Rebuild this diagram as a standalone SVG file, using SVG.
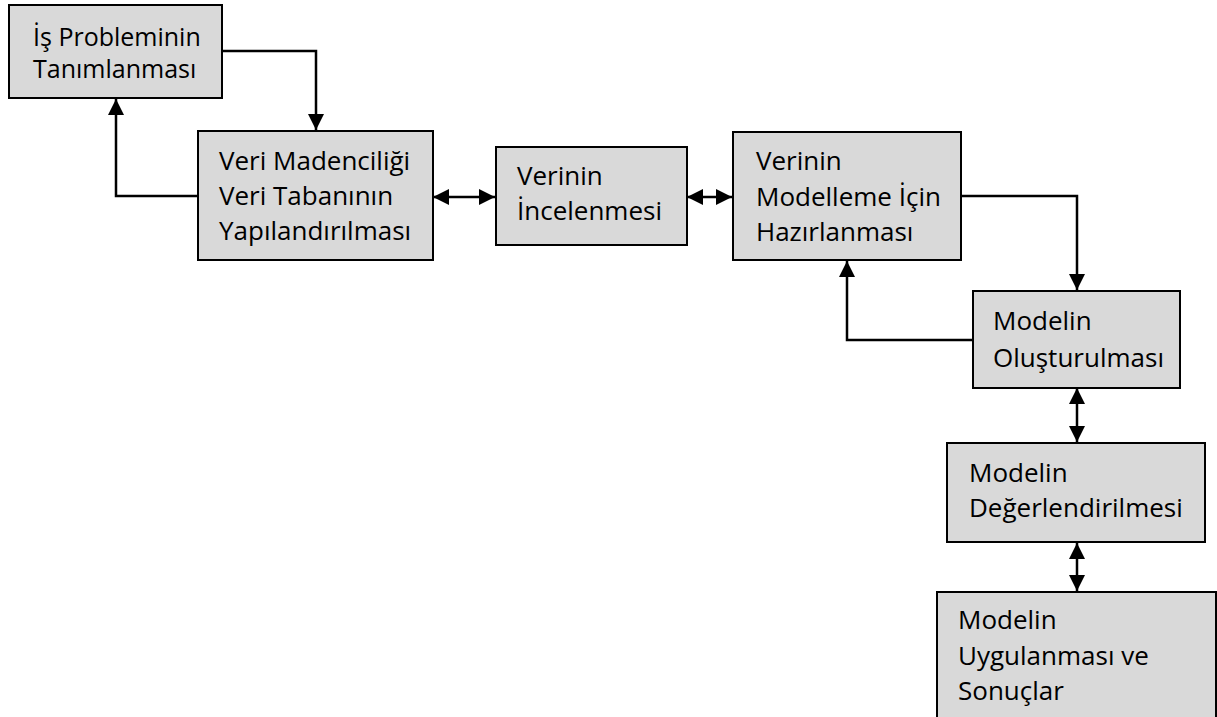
<svg xmlns="http://www.w3.org/2000/svg" width="1217" height="717" viewBox="0 0 1217 717">
  <style>
    .box { fill: #d9d9d9; stroke: #000; stroke-width: 2; }
    .lbl { font-family: "Open Sans", "Noto Sans", sans-serif; font-size: 26px; fill: #000; }
    .lbl.sm { font-size: 25px; }
    .wire { fill: none; stroke: #000; stroke-width: 2.5; }
  </style>
  <defs>
    <marker id="head" markerUnits="userSpaceOnUse" markerWidth="17" markerHeight="17" refX="16" refY="8" orient="auto-start-reverse" viewBox="0 0 17 17">
      <path d="M0,0 L16,8 L0,16 Z" fill="#000"/>
    </marker>
  </defs>
  <rect width="1217" height="717" fill="#fff"/>

  <g id="connectors">
    <path class="wire" d="M222,51 H316 V130" marker-end="url(#head)"/>
    <path class="wire" d="M198,196 H116 V99" marker-end="url(#head)"/>
    <path class="wire" d="M433,197 H495" marker-start="url(#head)" marker-end="url(#head)"/>
    <path class="wire" d="M687,197 H732" marker-start="url(#head)" marker-end="url(#head)"/>
    <path class="wire" d="M961,196 H1077 V290" marker-end="url(#head)"/>
    <path class="wire" d="M973,340 H847 V261" marker-end="url(#head)"/>
    <path class="wire" d="M1077,388 V442" marker-start="url(#head)" marker-end="url(#head)"/>
    <path class="wire" d="M1077,543 V591" marker-start="url(#head)" marker-end="url(#head)"/>
  </g>

  <g id="is-problemi">
    <rect class="box" x="9" y="5" width="213" height="93"/>
    <text class="lbl sm" x="33" y="46">İş Probleminin</text>
    <text class="lbl sm" x="33" y="78">Tanımlanması</text>
  </g>

  <g id="veri-tabani">
    <rect class="box" x="198" y="131" width="235" height="129"/>
    <text class="lbl" x="219" y="170">Veri Madenciliği</text>
    <text class="lbl" x="219" y="205">Veri Tabanının</text>
    <text class="lbl" x="219" y="240">Yapılandırılması</text>
  </g>

  <g id="veri-inceleme">
    <rect class="box" x="496" y="147" width="191" height="98"/>
    <text class="lbl" x="517" y="185">Verinin</text>
    <text class="lbl" x="517" y="220">İncelenmesi</text>
  </g>

  <g id="veri-hazirlama">
    <rect class="box" x="733" y="132" width="228" height="128"/>
    <text class="lbl" x="756" y="170">Verinin</text>
    <text class="lbl" x="756" y="206">Modelleme İçin</text>
    <text class="lbl" x="756" y="241">Hazırlanması</text>
  </g>

  <g id="model-olusturma">
    <rect class="box" x="973" y="291" width="207" height="97"/>
    <text class="lbl" x="993" y="330">Modelin</text>
    <text class="lbl" x="993" y="367">Oluşturulması</text>
  </g>

  <g id="model-degerlendirme">
    <rect class="box" x="947" y="443" width="258" height="99"/>
    <text class="lbl" x="969" y="482">Modelin</text>
    <text class="lbl" x="969" y="517">Değerlendirilmesi</text>
  </g>

  <g id="model-uygulama">
    <rect class="box" x="937" y="592" width="279" height="140"/>
    <text class="lbl" x="958" y="629">Modelin</text>
    <text class="lbl" x="958" y="665">Uygulanması ve</text>
    <text class="lbl" x="958" y="700">Sonuçlar</text>
  </g>
</svg>
